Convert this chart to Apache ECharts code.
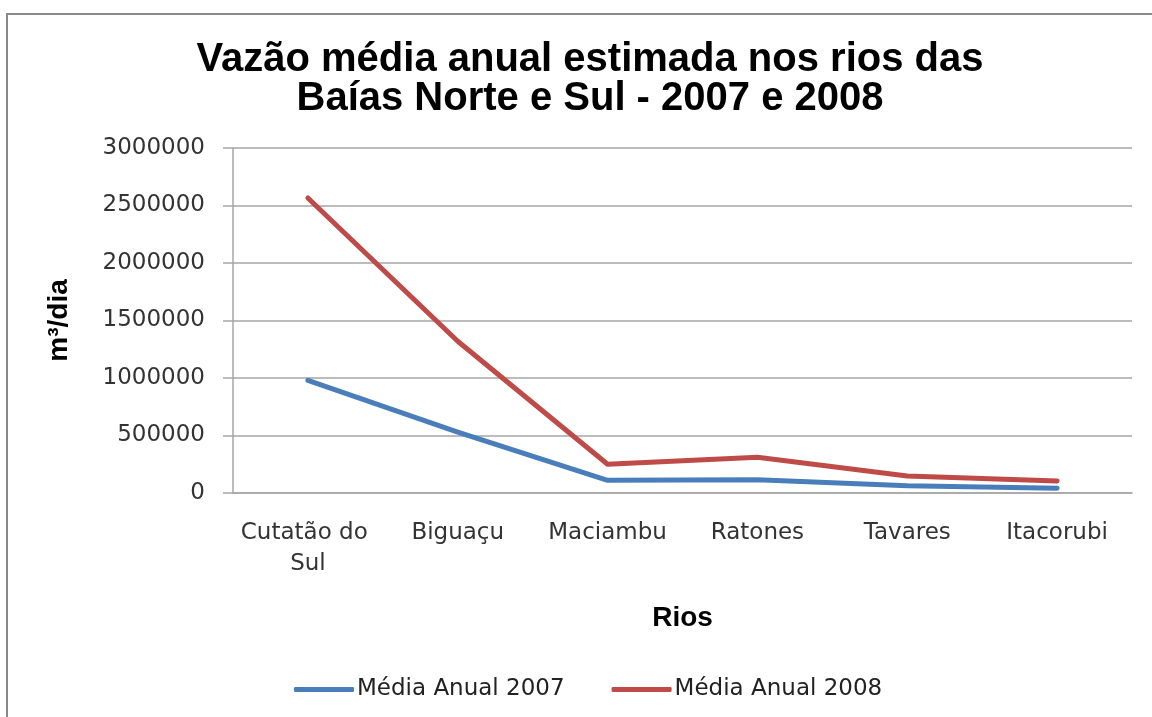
<!DOCTYPE html>
<html>
<head>
<meta charset="utf-8">
<script src="https://cdn.jsdelivr.net/npm/echarts@6/dist/echarts.min.js"></script>
<style>
  html, body { margin: 0; padding: 0; background: #fff; }
  #chart { width: 1152px; height: 717px; }
</style>
</head>
<body>
<div id="chart"></div>
<script>
// rios (eixo x)
var rios = ["Cutatão do Sul", "Biguaçu", "Maciambu", "Ratones", "Tavares", "Itacorubi"];
// vazão média anual, m3/dia
var media2007 = [980000, 530000, 110000, 115000, 62000, 42000];
var media2008 = [2565000, 1320000, 250000, 310000, 147000, 104000];
var nomes = ["Média Anual 2007", "Média Anual 2008"];
var yTicks = { min: 0, max: 3000000, interval: 500000 };

var chart = echarts.init(document.getElementById("chart"));
var labelFont = "DejaVu Sans";
var gray = "#a6a6a6";

chart.setOption({
  animation: false,
  backgroundColor: "#fff",
  title: {
    text: "Vazão média anual estimada nos rios das\nBaías Norte e Sul - 2007 e 2008",
    left: 585,
    top: 35,
    textAlign: "center",
    textStyle: {
      fontFamily: "Liberation Sans",
      fontWeight: "bold",
      fontSize: 40,
      lineHeight: 39,
      color: "#000"
    }
  },
  graphic: [
    {
      type: "rect",
      shape: { x: 7, y: 14, width: 1300, height: 900 },
      style: { fill: "none", stroke: "#8a8a8a", lineWidth: 2 },
      silent: true
    }
  ],
  legend: {
    data: nomes,
    left: 289,
    top: 673,
    icon: "roundRect",
    itemWidth: 60,
    itemHeight: 5,
    itemGap: 47,
    textStyle: {
      fontFamily: labelFont,
      fontSize: 23,
      color: "#222",
      padding: [0, 0, 0, -2]
    }
  },
  grid: {
    left: 233,
    right: 20,
    top: 148,
    bottom: 224,
    containLabel: false,
    outerBoundsMode: "none"
  },
  xAxis: {
    type: "category",
    data: rios,
    boundaryGap: true,
    name: "Rios",
    nameLocation: "middle",
    nameGap: 111,
    nameTextStyle: {
      fontFamily: "Liberation Sans",
      fontWeight: "bold",
      fontSize: 28,
      color: "#000"
    },
    axisLine: { lineStyle: { color: gray, width: 1.5 } },
    axisTick: { show: false },
    axisLabel: {
      margin: 25,
      interval: 0,
      width: 145,
      overflow: "break",
      lineHeight: 31,
      fontFamily: labelFont,
      fontSize: 23,
      color: "#333"
    }
  },
  yAxis: {
    type: "value",
    min: yTicks.min,
    max: yTicks.max,
    interval: yTicks.interval,
    name: "m³/dia",
    nameLocation: "middle",
    nameGap: 160,
    nameTextStyle: {
      fontFamily: "Liberation Sans",
      fontWeight: "bold",
      fontSize: 28,
      color: "#000"
    },
    axisLine: { show: true, lineStyle: { color: gray, width: 1.5 } },
    axisTick: { show: true, length: 10, lineStyle: { color: gray, width: 1.5 } },
    axisLabel: {
      margin: 28,
      fontFamily: labelFont,
      fontSize: 23,
      color: "#333",
      formatter: function (v) { return String(v); }
    },
    splitLine: { lineStyle: { color: gray, width: 1.5 } }
  },
  series: [
    {
      name: nomes[0],
      type: "line",
      data: media2007,
      symbol: "none",
      lineStyle: { color: "#4a7ebb", width: 5, cap: "round", join: "round" },
      itemStyle: { color: "#4a7ebb" }
    },
    {
      name: nomes[1],
      type: "line",
      data: media2008,
      symbol: "none",
      lineStyle: { color: "#be4b48", width: 5, cap: "round", join: "round" },
      itemStyle: { color: "#be4b48" }
    }
  ]
});
</script>
</body>
</html>
